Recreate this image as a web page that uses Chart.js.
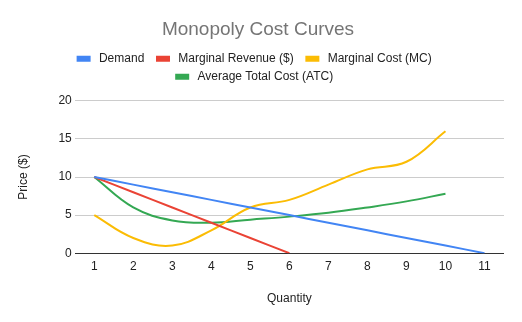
<!DOCTYPE html>
<html>
<head>
<meta charset="utf-8">
<script src="https://cdn.jsdelivr.net/npm/chart.js@4"></script>
<style>
  html, body { margin: 0; padding: 0; background: #fff; }
  #wrap { width: 522px; height: 322px; }
</style>
</head>
<body>
<div id="wrap"><canvas id="chart"></canvas></div>
<script>
const QUANTITY = ['1', '2', '3', '4', '5', '6', '7', '8', '9', '10', '11'];
const DEMAND = [10, 9, 8, 7, 6, 5, 4, 3, 2, 1, 0];
const MARGINAL_REVENUE = [10, 8, 6, 4, 2, 0];
const MARGINAL_COST = [5, 2, 1, 3, 6, 7, 9, 11, 12, 16];
const AVG_TOTAL_COST = [10, 6, 4.3, 4, 4.4, 4.8, 5.3, 6, 6.8, 7.8];

const FONT = "'Liberation Sans', Arial, sans-serif";
Chart.defaults.font.family = FONT;
Chart.defaults.color = '#222';

const line = (label, data, color) => ({
    label,
    data,
    borderColor: color,
    backgroundColor: color,
    borderWidth: 2,
    pointRadius: 0,
    tension: 0.4,
});

// a bit of room under the legend, like the sheets chart
const legendGap = {
    id: 'legendGap',
    beforeInit(chart) {
        const fit = chart.legend.fit;
        chart.legend.fit = function () {
            fit.call(this);
            this.height += 8;
        };
    }
};

new Chart(document.getElementById('chart'), {
    type: 'line',
    data: {
        labels: QUANTITY,
        datasets: [
            line('Demand', DEMAND, '#4285f4'),
            line('Marginal Revenue ($)', MARGINAL_REVENUE, '#ea4335'),
            line('Marginal Cost (MC)', MARGINAL_COST, '#fbbc04'),
            line('Average Total Cost (ATC)', AVG_TOTAL_COST, '#34a853'),
        ]
    },
    plugins: [legendGap],
    options: {
        responsive: true,
        maintainAspectRatio: false,
        animation: false,
        layout: { padding: { left: 12, right: 18, top: 0, bottom: 12 } },
        scales: {
            x: {
                offset: true,
                grid: { display: false, drawTicks: false },
                border: { display: false },
                ticks: { font: { size: 12 }, color: '#222', padding: 6 },
                title: { display: true, text: 'Quantity', font: { size: 12 }, color: '#222', padding: { top: 12 } },
            },
            y: {
                min: 0,
                max: 20,
                ticks: { stepSize: 5, font: { size: 12 }, color: '#222', padding: 3 },
                grid: {
                    drawTicks: false,
                    color: ctx => ctx.tick && ctx.tick.value === 0 ? '#333' : '#cccccc',
                    lineWidth: 1,
                },
                border: { display: false },
                title: { display: true, text: 'Price ($)', font: { size: 12 }, color: '#222', padding: { bottom: 25 } },
            },
        },
        plugins: {
            title: {
                display: true,
                text: 'Monopoly Cost Curves',
                color: '#757575',
                font: { size: 19, weight: 'normal' },
                padding: { top: 18, bottom: 6 },
            },
            legend: {
                labels: {
                    boxWidth: 12,
                    boxHeight: 4,
                    font: { size: 12 },
                    color: '#222',
                    padding: 6,
                    generateLabels: chart => Chart.defaults.plugins.legend.labels.generateLabels(chart)
                        .map(item => ({ ...item, text: ' ' + item.text + '  ' })),
                },
            },
            tooltip: { enabled: false },
        }
    }
});
</script>
</body>
</html>
